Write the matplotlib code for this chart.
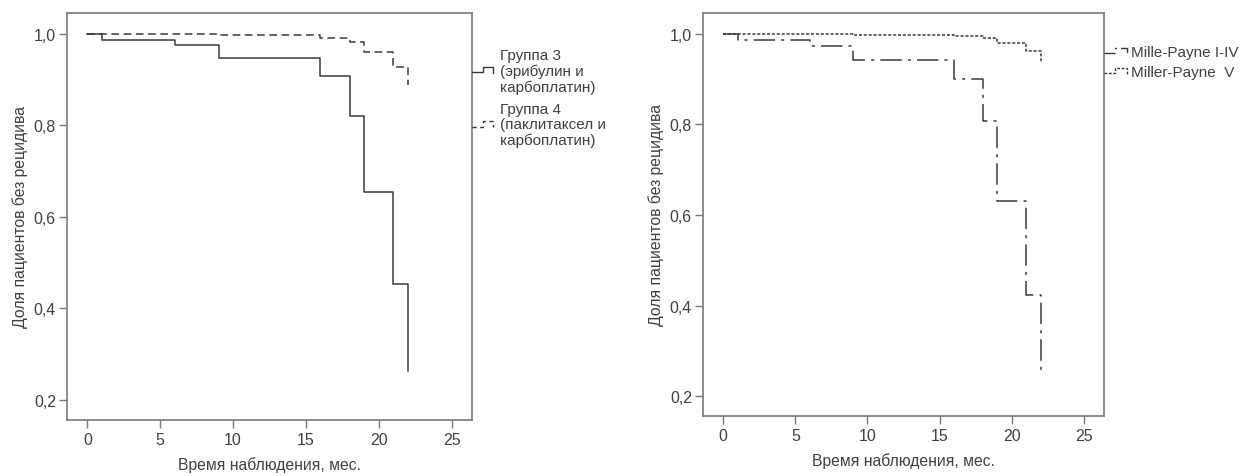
import matplotlib
matplotlib.use("Agg")
import matplotlib.pyplot as plt
from matplotlib.lines import Line2D
from matplotlib.ticker import FuncFormatter

plt.rcParams['font.family'] = ['Liberation Sans', 'DejaVu Sans']

# Левый график: группы 3 и 4 (значение после шага в момент t)
t_gr3 = [0, 1, 6, 9, 16, 18, 19, 21, 22]
s_gr3 = [1.0, 0.988, 0.976, 0.947, 0.909, 0.821, 0.654, 0.453, 0.264]
t_gr4 = [0, 1, 9, 16, 18, 19, 21, 22]
s_gr4 = [1.0, 0.999, 0.997, 0.991, 0.982, 0.961, 0.927, 0.889]

# Правый график: Miller-Payne
t_mp14 = [0, 1, 6, 9, 16, 18, 19, 21, 22]
s_mp14 = [1.0, 0.987, 0.974, 0.942, 0.901, 0.808, 0.631, 0.424, 0.248]
t_mp5 = [0, 9, 16, 18, 19, 21, 22]
s_mp5 = [1.0, 0.998, 0.995, 0.990, 0.980, 0.962, 0.938]

x_ticks = [0, 5, 10, 15, 20, 25]
y_ticks = [0.2, 0.4, 0.6, 0.8, 1.0]
xlabel = "Время наблюдения, мес."
ylabel = "Доля пациентов без рецидива"

line_col = '#3a3a3a'
spine_col = '#7a7a7a'
text_col = '#404040'

W, H = 1242, 477
fig = plt.figure(figsize=(W / 100, H / 100), dpi=100)


def setup_axes(ax):
    ax.set_xlim(-1.4, 26.4)
    ax.set_ylim(0.156, 1.046)
    ax.set_xticks(x_ticks)
    ax.set_yticks(y_ticks)
    ax.yaxis.set_major_formatter(FuncFormatter(lambda v, p: f"{v:.1f}".replace('.', ',')))
    for sp in ax.spines.values():
        sp.set_color(spine_col)
        sp.set_linewidth(1.2)
    ax.tick_params(direction='out', length=6, width=1, color=spine_col,
                   labelsize=11.5, labelcolor=text_col, pad=3)
    ax.tick_params(axis='y', pad=2)
    ax.set_xlabel(xlabel, fontsize=11.3, color=text_col, labelpad=6)
    ax.set_ylabel(ylabel, fontsize=11.3, color=text_col, labelpad=4)


def px_line(xs, ys, **kw):
    # линия в пиксельных координатах картинки (для значков легенды)
    fx = [x / W for x in xs]
    fy = [1 - y / H for y in ys]
    fig.add_artist(Line2D(fx, fy, transform=fig.transFigure, color=line_col, lw=1, **kw))


# ---- Левый график ----
ax1 = fig.add_axes([67 / W, 1 - 421 / H, (472 - 67) / W, (421 - 14) / H])
ax1.step(t_gr3, s_gr3, where='post', color=line_col, lw=1.1)
ax1.step(t_gr4, s_gr4, where='post', color=line_col, lw=1.1, linestyle=(0, (5, 3)))
setup_axes(ax1)

px_line([472, 483, 483, 493, 493], [73, 73, 68, 68, 74])
px_line([472, 483, 483, 493, 493], [128, 128, 122, 122, 128], linestyle=(0, (3, 2.5)))
fig.text(500 / W, 1 - 49 / H, "Группа 3\n(эрибулин и\nкарбоплатин)", fontsize=11,
         color=text_col, va='top', ha='left', linespacing=1.12)
fig.text(500 / W, 1 - 103 / H, "Группа 4\n(паклитаксел и\nкарбоплатин)", fontsize=11,
         color=text_col, va='top', ha='left', linespacing=1.12)

# ---- Правый график ----
ax2 = fig.add_axes([703 / W, 1 - 417 / H, (1104 - 703) / W, (417 - 14) / H])
ax2.step(t_mp14, s_mp14, where='post', color=line_col, lw=1.1, linestyle=(0, (14, 4, 2, 4)))
ax2.step(t_mp5, s_mp5, where='post', color=line_col, lw=1.1, linestyle=(0, (2, 1.2)))
setup_axes(ax2)

px_line([1104, 1115, 1115, 1127, 1127], [54, 54, 49, 49, 55], linestyle=(0, (8, 3, 1.5, 3)))
px_line([1104, 1115, 1115, 1127, 1127], [74, 74, 69, 69, 75], linestyle=(0, (2, 1.2)))
fig.text(1131 / W, 1 - 53 / H, "Mille-Payne I-IV", fontsize=11, color=text_col,
         va='center', ha='left')
fig.text(1131 / W, 1 - 73 / H, "Miller-Payne  V", fontsize=11, color=text_col,
         va='center', ha='left')

fig.savefig("out.png", dpi=100)
